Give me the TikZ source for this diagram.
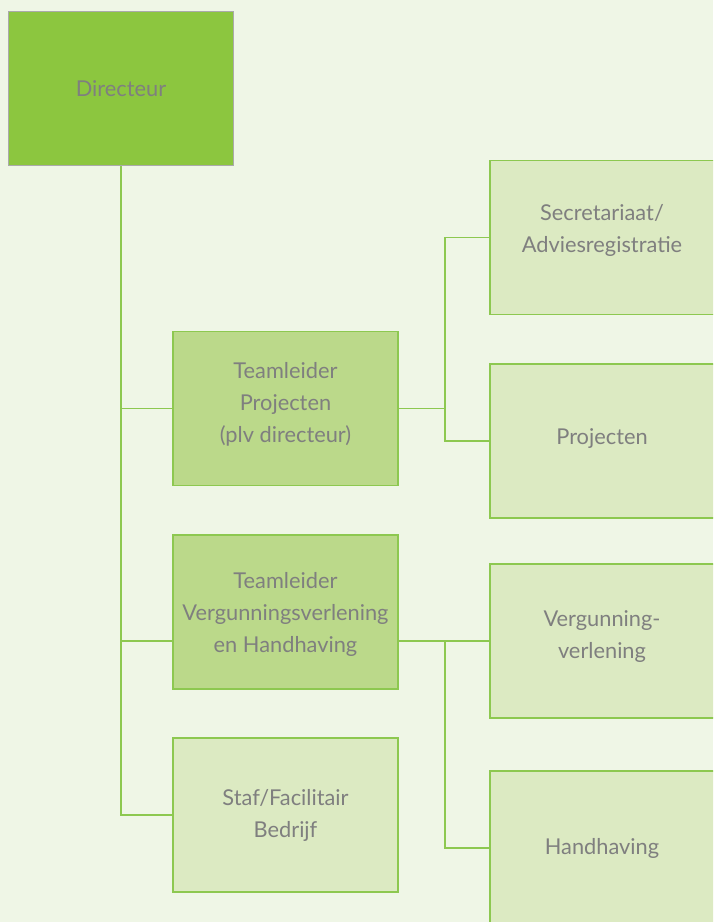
\documentclass[tikz,border=0pt]{standalone}
\usepackage{fontspec}
\setmainfont{Lato}
\definecolor{bg}{HTML}{EFF6E6}
\definecolor{dark}{HTML}{8CC63F}
\definecolor{mid}{HTML}{BBD98A}
\definecolor{light}{HTML}{DCEAC2}
\definecolor{edge}{HTML}{8DC850}
\definecolor{txt}{HTML}{7F7F7F}
\definecolor{greyedge}{HTML}{AAAAAA}
\tikzset{
  box/.style={rectangle, draw=edge, line width=1.2pt, minimum width=225pt, minimum height=154pt, inner sep=0pt},
  topbox/.style={box, fill=dark, draw=greyedge},
  midbox/.style={box, fill=mid},
  lightbox/.style={box, fill=light},
  lbl/.style={align=center, text=txt, font=\fontsize{21.8}{32}\selectfont, inner sep=0pt},
  link/.style={draw=edge, line width=1.2pt}
}
\begin{document}
\begin{tikzpicture}[x=1pt,y=-1pt]
\useasboundingbox (0,0) rectangle (713,922);
\clip (0,0) rectangle (713,922);
\fill[bg] (0,0) rectangle (713,922);
\coordinate (bx) at (445,0);
\node[topbox] (dir) at (121,88.5) {};
\node[midbox] (tp) at (285.5,408.5) {};
\node[midbox] (tv) at (285.5,612) {};
\node[lightbox] (st) at (285.5,815) {};
\node[lightbox, minimum width=228pt] (se) at (604,237.5) {};
\node[lightbox, minimum width=228pt] (pr) at (604,441) {};
\node[lightbox, minimum width=228pt] (vv) at (604,641) {};
\node[lightbox, minimum width=228pt] (hh) at (604,848) {};
\node[lbl] (dir-t) at (dir.center) {Directeur};
\node[lbl] (tp-t) at ([yshift=4pt]tp.center) {Teamleider\\Projecten\\(plv directeur)};
\node[lbl] (tv-t) at ([yshift=-2pt]tv.center) {Teamleider\\Vergunningsverlening\\en Handhaving};
\node[lbl] (st-t) at (st.center) {Staf/Facilitair\\Bedrijf};
\node[lbl] (se-t) at ([xshift=-2pt,yshift=7pt]se.center) {Secretariaat/\\Adviesregistratie};
\node[lbl] (pr-t) at ([xshift=-2pt,yshift=2pt]pr.center) {Projecten};
\node[lbl] (vv-t) at ([xshift=-2pt,yshift=4pt]vv.center) {Vergunning-\\verlening};
\node[lbl] (hh-t) at ([xshift=-2pt]hh.center) {Handhaving};
\draw[link] (dir.south) |- (st.west);
\draw[link] (dir.south) |- (tp.west);
\draw[link] (dir.south) |- (tv.west |- vv.west);
\draw[link] (tp.east) -- (tp.east -| bx);
\draw[link] (se.west) -| (bx |- tp.east) |- (pr.west);
\draw[link] (tv.east |- vv.west) -- (vv.west);
\draw[link] (bx |- vv.west) |- (hh.west);
\end{tikzpicture}
\end{document}
